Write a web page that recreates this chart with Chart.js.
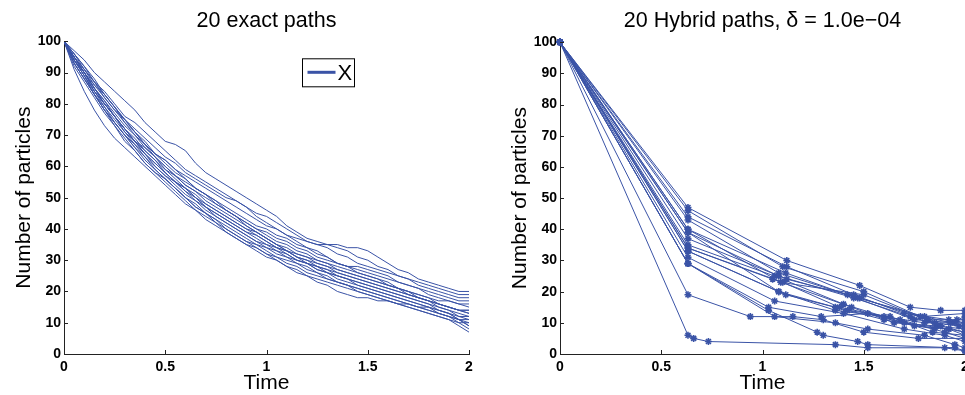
<!DOCTYPE html>
<html>
<head>
<meta charset="utf-8">
<script src="https://cdn.jsdelivr.net/npm/chart.js@4.4.0/dist/chart.umd.min.js"></script>
<style>
  html, body { margin: 0; padding: 0; background: #fff; overflow: hidden; width: 965px; height: 395px; }
  canvas { position: absolute; top: 0; }
  #exacto { left: 0; }
  #hibrido { left: 496px; }
</style>
</head>
<body>
<canvas id="exacto" width="532" height="395"></canvas>
<canvas id="hibrido" width="532" height="395"></canvas>
<script>
// datos
const tituloExacto = '20 exact paths';
const tituloHibrido = '20 Hybrid paths, \u03b4 = 1.0e\u221204';
const etiquetaLeyenda = 'X';
const xTicks = [0, 0.5, 1, 1.5, 2];
const yTicks = [0, 10, 20, 30, 40, 50, 60, 70, 80, 90, 100];

// tiempos cada 0.05, de 0 a 2
const tiemposExactos = [0, 0.05, 0.1, 0.15, 0.2, 0.25, 0.3, 0.35, 0.4, 0.45, 0.5, 0.55, 0.6, 0.65, 0.7, 0.75, 0.8, 0.85, 0.9, 0.95,
  1, 1.05, 1.1, 1.15, 1.2, 1.25, 1.3, 1.35, 1.4, 1.45, 1.5, 1.55, 1.6, 1.65, 1.7, 1.75, 1.8, 1.85, 1.9, 1.95, 2];
const caminosExactos = [
  [100, 97, 94, 90, 87, 84, 81, 78, 74, 71, 68, 67, 65, 61, 58, 56, 54, 52, 50, 48, 46, 44, 41, 39, 37, 36, 35, 35, 34, 34, 33, 31, 29, 27, 26, 24, 23, 22, 21, 20, 20],
  [100, 95, 91, 86, 83, 79, 75, 72, 69, 66, 63, 61, 58, 56, 54, 52, 50, 49, 47, 45, 44, 42, 40, 38, 36, 35, 34, 32, 31, 29, 28, 27, 26, 25, 24, 23, 22, 21, 20, 19, 19],
  [100, 94, 90, 86, 82, 78, 75, 71, 68, 64, 62, 59, 57, 55, 53, 51, 49, 47, 45, 43, 41, 40, 38, 37, 36, 35, 35, 34, 33, 31, 30, 28, 27, 25, 24, 22, 21, 20, 19, 18, 18],
  [100, 95, 90, 85, 81, 77, 73, 70, 67, 64, 62, 59, 56, 53, 51, 49, 46, 44, 42, 40, 39, 37, 36, 34, 33, 31, 30, 29, 28, 27, 26, 25, 24, 23, 22, 21, 20, 19, 18, 17, 17],
  [100, 94, 89, 84, 80, 76, 72, 68, 66, 63, 60, 57, 55, 53, 51, 49, 47, 45, 43, 41, 40, 38, 37, 35, 34, 32, 31, 29, 28, 28, 27, 26, 25, 23, 22, 21, 19, 18, 17, 16, 16],
  [100, 96, 92, 87, 84, 80, 76, 74, 71, 68, 65, 62, 59, 57, 55, 53, 51, 49, 47, 44, 42, 40, 38, 36, 34, 33, 31, 29, 28, 26, 25, 24, 22, 21, 20, 19, 18, 17, 17, 16, 15],
  [100, 95, 90, 85, 80, 76, 72, 69, 65, 62, 59, 57, 54, 52, 50, 48, 46, 44, 42, 40, 38, 36, 35, 33, 32, 30, 29, 27, 26, 25, 24, 23, 22, 21, 20, 19, 18, 16, 15, 14, 14],
  [100, 93, 88, 83, 79, 75, 71, 67, 64, 61, 58, 55, 53, 50, 48, 46, 44, 42, 40, 39, 37, 35, 34, 32, 31, 30, 29, 28, 27, 26, 25, 24, 23, 21, 20, 18, 17, 16, 15, 14, 14],
  [100, 96, 91, 87, 83, 79, 75, 71, 67, 63, 60, 57, 54, 52, 49, 47, 45, 43, 41, 39, 37, 35, 33, 31, 30, 29, 28, 26, 25, 24, 23, 22, 21, 20, 19, 18, 17, 16, 15, 14, 13],
  [100, 95, 90, 85, 81, 76, 72, 68, 64, 60, 57, 55, 52, 49, 47, 45, 43, 41, 39, 37, 35, 34, 32, 30, 29, 28, 26, 25, 24, 23, 22, 21, 20, 19, 18, 17, 16, 15, 14, 13, 12],
  [100, 94, 89, 84, 79, 74, 70, 67, 63, 60, 57, 54, 51, 49, 46, 44, 42, 40, 38, 36, 34, 33, 31, 30, 29, 28, 27, 26, 25, 24, 23, 22, 21, 20, 19, 18, 17, 15, 14, 12, 12],
  [100, 96, 92, 88, 83, 79, 74, 70, 66, 63, 59, 56, 53, 50, 47, 44, 42, 40, 38, 36, 35, 33, 32, 30, 29, 27, 26, 25, 24, 23, 22, 21, 20, 19, 18, 17, 16, 14, 13, 11, 11],
  [100, 95, 90, 84, 80, 76, 71, 68, 64, 61, 58, 55, 52, 50, 47, 45, 43, 41, 39, 38, 36, 34, 33, 31, 30, 28, 27, 25, 24, 22, 21, 20, 19, 18, 17, 16, 15, 14, 13, 12, 11],
  [100, 93, 88, 83, 78, 74, 70, 66, 63, 59, 56, 53, 50, 48, 45, 43, 40, 38, 36, 35, 33, 31, 30, 29, 27, 26, 24, 23, 22, 21, 20, 19, 18, 17, 16, 15, 14, 13, 12, 11, 10],
  [100, 95, 91, 87, 82, 78, 74, 71, 67, 64, 61, 58, 56, 53, 51, 48, 46, 44, 41, 39, 37, 35, 33, 31, 29, 27, 26, 24, 23, 22, 21, 20, 19, 18, 17, 16, 15, 13, 12, 10, 10],
  [100, 94, 89, 83, 78, 73, 69, 65, 61, 58, 56, 53, 50, 47, 45, 42, 40, 38, 36, 34, 32, 30, 28, 27, 25, 23, 22, 20, 19, 18, 18, 17, 17, 16, 16, 15, 14, 13, 12, 11, 9],
  [100, 92, 87, 82, 77, 73, 68, 65, 61, 58, 55, 52, 49, 46, 44, 42, 39, 37, 35, 33, 31, 30, 28, 26, 25, 24, 23, 22, 21, 20, 19, 18, 17, 16, 15, 14, 13, 12, 11, 10, 8],
  [100, 93, 88, 83, 78, 74, 70, 66, 62, 59, 56, 53, 50, 47, 45, 43, 41, 39, 37, 35, 34, 32, 31, 29, 28, 26, 25, 23, 22, 20, 19, 18, 17, 16, 15, 14, 13, 12, 11, 9, 7],
  [100, 91, 84, 78, 73, 69, 66, 63, 60, 57, 54, 51, 48, 46, 43, 41, 39, 37, 35, 34, 32, 31, 29, 28, 26, 25, 24, 23, 22, 21, 20, 19, 18, 17, 16, 15, 15, 14, 13, 11, 9],
  [100, 94, 90, 85, 80, 76, 72, 68, 65, 62, 58, 55, 53, 51, 48, 46, 44, 42, 40, 38, 36, 34, 33, 32, 31, 29, 28, 27, 26, 25, 24, 23, 22, 21, 19, 18, 17, 16, 15, 14, 13]
];

const tiemposHibridos = [
  [0, 0.632, 1.12, 1.48, 1.73, 1.88, 2],
  [0, 0.632, 1.10, 1.50, 1.78, 2],
  [0, 0.632, 1.12, 1.45, 1.70, 1.92, 2],
  [0, 0.632, 1.08, 1.47, 1.80, 1.93, 2],
  [0, 0.632, 1.115, 1.42, 1.75, 1.95, 2],
  [0, 0.632, 1.08, 1.45, 1.73, 1.88, 2],
  [0, 0.632, 1.12, 1.48, 1.82, 1.96, 2],
  [0, 0.632, 1.06, 1.40, 1.70, 1.92, 2],
  [0, 0.632, 1.10, 1.38, 1.68, 1.90, 2],
  [0, 0.632, 1.08, 1.36, 1.60, 1.85, 2],
  [0, 0.632, 1.115, 1.42, 1.63, 1.84, 2],
  [0, 0.632, 1.06, 1.40, 1.70, 1.90, 2],
  [0, 0.632, 1.03, 1.29, 1.52, 1.75, 1.92, 2],
  [0, 0.632, 1.03, 1.27, 1.30, 1.47, 1.52, 1.95, 2],
  [0, 0.632, 1.06, 1.36, 1.52, 1.80, 1.95, 2],
  [0, 0.632, 0.94, 1.15, 1.30, 1.50, 1.77, 2],
  [0, 0.632, 0.66, 0.733, 1.36, 1.52, 1.90, 2],
  [0, 0.632, 1.09, 1.50, 1.85, 1.97, 2],
  [0, 0.632, 1.05, 1.44, 1.65, 1.86, 2],
  [0, 0.632, 1.08, 1.36, 1.60, 1.80, 2]
];
const caminosHibridos = [
  [100, 47, 30, 22, 15, 14, 14],
  [100, 46, 28, 20, 12, 13],
  [100, 44, 28, 19, 13, 11, 10],
  [100, 43, 26, 18, 12, 10, 9],
  [100, 40, 26, 19, 11, 10, 8],
  [100, 39, 25, 18, 12, 9, 7],
  [100, 37, 24, 18, 11, 11, 11],
  [100, 35, 25, 16, 10, 8, 6],
  [100, 34, 23, 15, 11, 7, 5],
  [100, 33, 20, 15, 11, 8, 12],
  [100, 33, 19, 14, 12, 7, 6],
  [100, 31, 17, 13, 8, 6, 4],
  [100, 29, 15, 12, 13, 9, 8, 7],
  [100, 29, 14, 7, 6, 4, 3, 2, 1],
  [100, 29, 12, 10, 8, 6, 3, 2],
  [100, 19, 12, 12, 11, 7, 5, 5],
  [100, 6, 5, 4, 3, 2, 2, 1],
  [100, 40, 23, 19, 10, 9, 9],
  [100, 34, 24, 15, 10, 9, 8],
  [100, 39, 20, 14, 12, 10, 10]
];

const azul = '#3a53a6';
const fuente = "'Liberation Sans', Arial, Helvetica, sans-serif";

// marcas hacia dentro, como en matlab
const marcasDentro = {
  id: 'marcasDentro',
  afterDraw(chart) {
    const { ctx, scales: { x, y } } = chart;
    ctx.save();
    ctx.strokeStyle = '#222';
    ctx.lineWidth = 1;
    ctx.beginPath();
    xTicks.forEach(v => {
      const px = Math.round(x.getPixelForValue(v)) + 0.5;
      ctx.moveTo(px, y.bottom);
      ctx.lineTo(px, y.bottom - 4);
    });
    yTicks.forEach(v => {
      const py = Math.round(y.getPixelForValue(v)) + 0.5;
      ctx.moveTo(x.left, py);
      ctx.lineTo(x.left + 4, py);
    });
    ctx.stroke();
    ctx.restore();
  }
};

const leyenda = {
  id: 'leyenda',
  afterDraw(chart, args, opts) {
    if (!opts.mostrar) return;
    const { ctx, chartArea } = chart;
    const bx = chartArea.left + 238.5, by = chartArea.top + 17.5;
    ctx.save();
    ctx.fillStyle = '#fff';
    ctx.fillRect(bx, by, 52, 28);
    ctx.strokeStyle = '#000';
    ctx.lineWidth = 1;
    ctx.strokeRect(bx, by, 52, 28);
    ctx.strokeStyle = azul;
    ctx.lineWidth = 3;
    ctx.beginPath();
    ctx.moveTo(bx + 5, by + 13.5);
    ctx.lineTo(bx + 33, by + 13.5);
    ctx.stroke();
    ctx.fillStyle = '#000';
    ctx.font = '22px ' + fuente;
    ctx.textBaseline = 'middle';
    ctx.fillText(etiquetaLeyenda, bx + 35, by + 15);
    ctx.restore();
  }
};

function opciones(titulo, padTitulo, conLeyenda) {
  return {
    responsive: false,
    animation: false,
    layout: { padding: { left: 0, right: 63, top: 0, bottom: 0 } },
    plugins: {
      legend: { display: false },
      tooltip: { enabled: false },
      title: {
        display: true,
        fullSize: false,
        text: titulo,
        color: '#000',
        font: { family: fuente, size: 21.5, weight: 'normal', lineHeight: 1.2 },
        padding: { top: 8, bottom: padTitulo }
      },
      leyenda: { mostrar: conLeyenda }
    },
    scales: {
      x: {
        type: 'linear',
        min: 0,
        max: 2,
        afterBuildTicks: s => { s.ticks = xTicks.map(v => ({ value: v })); },
        ticks: {
          color: '#000', padding: 5, maxRotation: 0,
          font: { family: fuente, size: 14, weight: 'bold' },
          callback: v => String(v)
        },
        grid: { drawOnChartArea: false, drawTicks: false },
        border: { color: '#222', width: 1 },
        title: {
          display: true, text: 'Time', color: '#000',
          font: { family: fuente, size: 21, lineHeight: 1 },
          padding: { top: 0, bottom: 1 }
        },
        afterFit: s => { s.height = 41; }
      },
      y: {
        min: 0,
        max: 100,
        afterBuildTicks: s => { s.ticks = yTicks.map(v => ({ value: v })); },
        ticks: { color: '#000', padding: 3, font: { family: fuente, size: 14, weight: 'bold' } },
        grid: { drawOnChartArea: false, drawTicks: false },
        border: { color: '#222', width: 1 },
        title: {
          display: true, text: 'Number of particles', color: '#000',
          font: { family: fuente, size: 21, lineHeight: 1 },
          padding: { top: 14, bottom: 0 }
        },
        afterFit: s => { s.width = 64; }
      }
    }
  };
}

document.addEventListener('DOMContentLoaded', () => {
  new Chart(document.getElementById('exacto').getContext('2d'), {
    type: 'line',
    data: {
      datasets: caminosExactos.map(camino => ({
        label: etiquetaLeyenda,
        data: camino.map((v, i) => ({ x: tiemposExactos[i], y: v })),
        borderColor: azul,
        borderWidth: 1,
        pointRadius: 0,
        tension: 0
      }))
    },
    options: opciones(tituloExacto, 7.5, true),
    plugins: [marcasDentro, leyenda]
  });

  new Chart(document.getElementById('hibrido').getContext('2d'), {
    type: 'line',
    data: {
      datasets: caminosHibridos.map((camino, k) => ({
        label: etiquetaLeyenda,
        data: camino.map((v, i) => ({ x: tiemposHibridos[k][i], y: v })),
        borderColor: azul,
        borderWidth: 1,
        pointStyle: 'star',
        pointRadius: 3.5,
        pointBorderWidth: 1.6,
        pointBorderColor: azul,
        pointBackgroundColor: azul,
        tension: 0,
        clip: false
      }))
    },
    options: opciones(tituloHibrido, 8.5, false),
    plugins: [marcasDentro, leyenda]
  });
});
</script>
</body>
</html>
